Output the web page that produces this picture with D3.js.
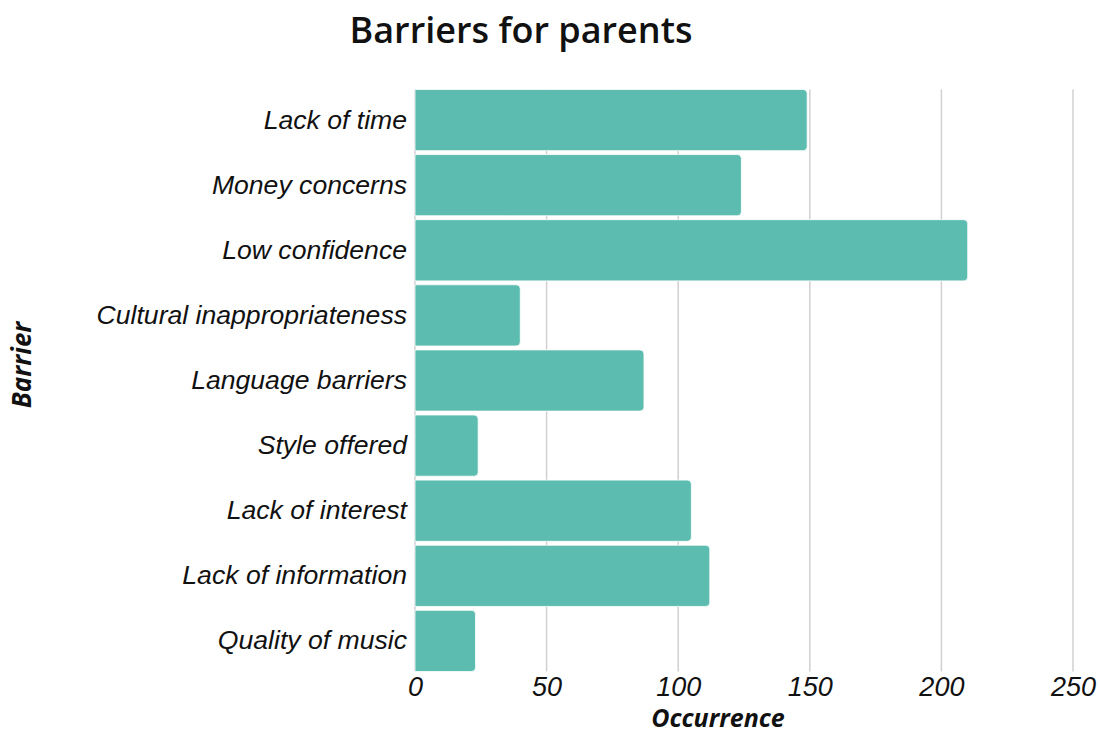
<!DOCTYPE html>
<html>
<head>
<meta charset="utf-8">
<script src="https://cdn.jsdelivr.net/npm/d3@7"></script>
<style>
  html, body { margin: 0; padding: 0; background: #fff; }
  svg { display: block; }
</style>
</head>
<body>
<svg id="chart" width="1100" height="733"></svg>
<script>
// Reported barriers and how often each one was mentioned
const barriers = [
  "Lack of time",
  "Money concerns",
  "Low confidence",
  "Cultural inappropriateness",
  "Language barriers",
  "Style offered",
  "Lack of interest",
  "Lack of information",
  "Quality of music"
];
const occurrences = [149, 124, 210, 40, 87, 24, 105, 112, 23];
const xTicks = [0, 50, 100, 150, 200, 250];

const titleText = "Barriers for parents";
const xTitle = "Occurrence";
const yTitle = "Barrier";

const rows = barriers.map((b, i) => ({ barrier: b, value: occurrences[i] }));

const svg = d3.select("#chart");
const margin = { left: 415, right: 27, top: 87.5, bottom: 59.5 };
const W = 1100, H = 733;

const x = d3.scaleLinear().domain([0, 250]).range([margin.left, W - margin.right]);
const y = d3.scaleBand().domain(barriers)
  .range([margin.top, H - margin.bottom])
  .paddingInner(0.06).paddingOuter(0.03);

const labelFont = "'Liberation Sans', Arial, sans-serif";
const titleFont = "'Open Sans', 'Noto Sans', sans-serif";

// vertical grid lines
const gridTop = y(barriers[0]);
const gridBottom = y(barriers[barriers.length - 1]) + y.bandwidth();
svg.append("g").selectAll("line").data(xTicks).join("line")
  .attr("x1", d => x(d)).attr("x2", d => x(d))
  .attr("y1", gridTop).attr("y2", gridBottom)
  .attr("stroke", "#d0d0d0").attr("stroke-width", 1.5);

// bars, rounded on the value end
const r = 4;
function barPath(d) {
  const x0 = x(0), x1 = x(d.value), y0 = y(d.barrier), h = y.bandwidth();
  const rr = Math.min(r, (x1 - x0) / 2, h / 2);
  return `M${x0},${y0}H${x1 - rr}Q${x1},${y0} ${x1},${y0 + rr}` +
         `V${y0 + h - rr}Q${x1},${y0 + h} ${x1 - rr},${y0 + h}H${x0}Z`;
}
svg.append("g").selectAll("path").data(rows).join("path")
  .attr("d", barPath)
  .attr("fill", "#5bbcaf")
  .attr("stroke", "#ffffff")
  .attr("stroke-width", 0.8);

// category axis labels
const yAxis = d3.axisLeft(y).tickSize(0).tickPadding(8);
const gy = svg.append("g").attr("transform", `translate(${margin.left},0)`).call(yAxis);
gy.select(".domain").remove();
gy.selectAll("text")
  .attr("font-family", labelFont).attr("font-style", "italic")
  .attr("font-size", 26.6).attr("fill", "#111");

// value axis labels
const xAxis = d3.axisBottom(x).tickValues(xTicks).tickSize(0).tickPadding(5);
const gx = svg.append("g").attr("transform", `translate(0,${gridBottom})`).call(xAxis);
gx.select(".domain").remove();
gx.selectAll("text")
  .attr("font-family", labelFont).attr("font-style", "italic")
  .attr("font-size", 27).attr("fill", "#111");

// titles
svg.append("text")
  .attr("x", 521).attr("y", 43)
  .attr("text-anchor", "middle")
  .attr("font-family", titleFont).attr("font-weight", 600)
  .attr("font-size", 36).attr("fill", "#111")
  .text(titleText);

svg.append("text")
  .attr("x", 718).attr("y", 727)
  .attr("text-anchor", "middle")
  .attr("font-family", titleFont).attr("font-weight", 700).attr("font-style", "italic")
  .attr("font-size", 25).attr("fill", "#111")
  .text(xTitle);

svg.append("text")
  .attr("transform", "translate(31,365) rotate(-90)")
  .attr("text-anchor", "middle")
  .attr("font-family", titleFont).attr("font-weight", 700).attr("font-style", "italic")
  .attr("font-size", 26).attr("fill", "#111")
  .text(yTitle);
</script>
</body>
</html>
